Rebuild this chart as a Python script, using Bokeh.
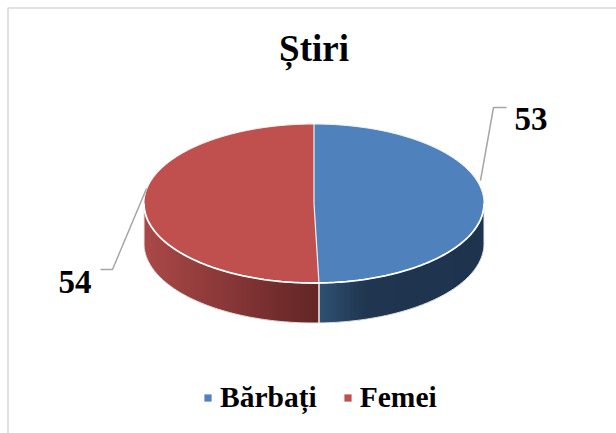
import numpy as np
from bokeh.embed import file_html
from bokeh.models import Legend, LegendItem, Range1d
from bokeh.plotting import figure
from bokeh.resources import INLINE

title_text = "Știri"
categories = ["Bărbați", "Femei"]
values = [53, 54]
top_colors = ["#4f81bd", "#c0504d"]
# side shading: (x position in picture, colour)
side_stops = [
    [(319, (47, 80, 115)), (365, (32, 54, 80)), (484, (30, 52, 78))],
    [(144, (170, 73, 72)), (290, (110, 42, 42)), (319, (100, 38, 38))],
]
FONT = "Liberation Serif"

W, H = 616, 433
OX, OY = 0, 0
cx, cy, rx, ry, depth = 313.5, 203.0, 170.0, 79.5, 40.0

p = figure(width=W, height=H, output_backend="svg", toolbar_location=None,
           x_range=Range1d(OX, OX + W), y_range=Range1d(OY + H, OY),
           min_border=0, outline_line_color=None, background_fill_color="white",
           border_fill_color="white")
p.axis.visible = False
p.grid.visible = False

# chart frame (left and top edges)
p.line([7.5, 7.5, 616], [433, 7.5, 7.5], line_color="#d9d9d9", line_width=1.6)


def ell(t, dy=0.0):
    return cx + rx * np.sin(t), cy - ry * np.cos(t) + dy


total = sum(values)
edges = np.concatenate([[0.0], np.cumsum(values)]) / total * 2 * np.pi

# sides, only the front half is visible
for i in range(len(values)):
    a = max(edges[i], 0.0)
    b = edges[i + 1]
    lo, hi = (np.pi / 2, b) if i == 0 else (a, 3 * np.pi / 2)
    ts = np.linspace(lo, hi, 60)
    stops = side_stops[i]
    xs_all, ys_all, cols = [], [], []
    for j, t0 in enumerate(ts[:-1]):
        # each band runs one step past its end so the next one overlaps it
        t1 = ts[min(j + 2, len(ts) - 1)]
        tm = (ts[j] + ts[j + 1]) / 2
        xm, _ = ell(tm)
        x0, y0 = ell(t0)
        x1, y1 = ell(t1)
        c = [np.interp(xm, [s[0] for s in stops], [s[1][k] for s in stops]) for k in range(3)]
        cols.append("#%02x%02x%02x" % tuple(int(round(v)) for v in c))
        xs_all.append([x0, x1, x1, x0])
        ys_all.append([y0, y1, y1 + depth, y0 + depth])
    p.patches(xs_all, ys_all, fill_color=cols, line_color=None)
    # outer rim of the side
    rim = np.linspace(lo, hi, 80)
    xr, yr = ell(rim, depth)
    p.line(xr, yr, line_color="#e4e4e4", line_width=1)

# vertical seam between the slices on the side
xs, ys = ell(edges[1])
p.line([xs, xs], [ys, ys + depth], line_color="#f2f2f2", line_width=1.5)
# vertical ends of the side
for t in (np.pi / 2, 3 * np.pi / 2):
    xe, ye = ell(t)
    p.line([xe, xe], [ye, ye + depth], line_color="#e4e4e4", line_width=1)

# top faces
faces = []
for i, col in enumerate(top_colors):
    t = np.linspace(edges[i], edges[i + 1], 200)
    x, y = ell(t)
    r = p.patch(np.r_[cx, x], np.r_[cy, y], fill_color=col, line_color=None)
    faces.append(r)

# white rim and slice separators on the top face
t = np.linspace(0, 2 * np.pi, 361)
x, y = ell(t)
p.line(x, y, line_color="#f4f4f4", line_width=1)
t = np.linspace(np.pi / 2, 3 * np.pi / 2, 181)
x, y = ell(t)
p.line(x, y, line_color="white", line_width=1.8)
for e in edges[:2]:
    x, y = ell(e)
    p.line([cx, x], [cy, y], line_color="#f0f0f0", line_width=1.2)

# leader lines
p.line([480, 493, 506], [180, 107, 107], line_color="#a6a6a6", line_width=1.5)
p.line([146, 112, 100], [188, 269, 269], line_color="#a6a6a6", line_width=1.5)

# title and data labels
p.text([313.5], [48], text=[title_text], text_font={"value": FONT}, text_font_style="bold",
       text_font_size="37px", text_color="black", text_align="center", text_baseline="alphabetic")
p.text([514, 58], [118, 281], text=[str(values[0]), str(values[1])], text_font={"value": FONT},
       text_font_style="bold", text_font_size="33px", text_color="black",
       text_align="left", text_baseline="alphabetic")

legend = Legend(
    items=[LegendItem(label=c, renderers=[r]) for c, r in zip(categories, faces)],
    orientation="horizontal", location=(203, 19), padding=0, margin=0, spacing=26,
    glyph_width=9, glyph_height=9, label_standoff=8, border_line_color=None,
    background_fill_alpha=0, label_text_font=FONT, label_text_font_style="bold",
    label_text_font_size="29.5px", label_text_color="black",
)
p.add_layout(legend, "center")

open("out.html", "w").write(file_html(p, INLINE))
